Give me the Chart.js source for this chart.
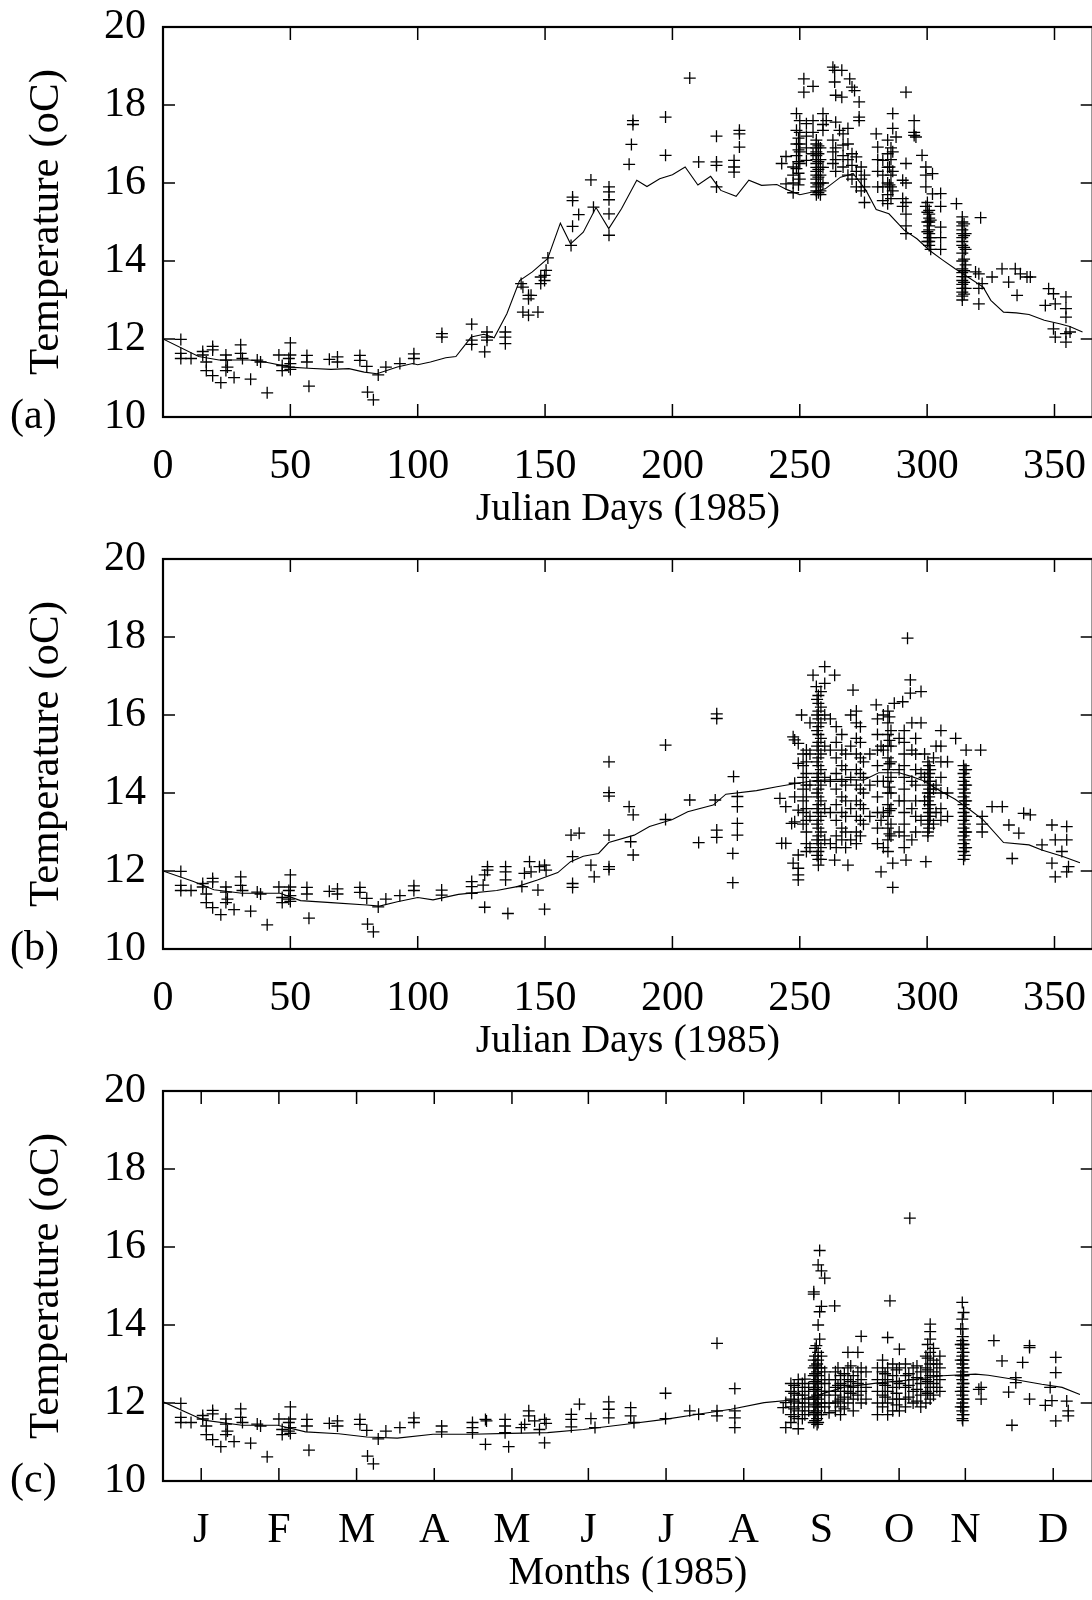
<!DOCTYPE html>
<html>
<head>
<meta charset="utf-8">
<title>Temperature 1985</title>
<script src="https://cdn.jsdelivr.net/npm/chart.js@4.4.1/dist/chart.umd.min.js"></script>
<style>
  html, body { margin: 0; padding: 0; background: #fff; overflow: hidden; }
  body { width: 1092px; height: 1600px; position: relative; }
  .panel { position: absolute; left: 0; width: 1100px; height: 532px; }
</style>
</head>
<body>
<div class="panel" style="top:0"><canvas id="chartA" width="1100" height="532"></canvas></div>
<div class="panel" style="top:532px"><canvas id="chartB" width="1100" height="532"></canvas></div>
<div class="panel" style="top:1064px"><canvas id="chartC" width="1100" height="532"></canvas></div>
<script>
// observations: each row is [julian day, temperature, temperature, ...]
// winter samples are the same in all three panels
const winterObs = [
  [7, 11.99, 11.63, 11.5], [11, 11.5], [15.6, 11.68, 11.59], [17, 11.41, 11.19],
  [19.5, 11.81, 11.72, 11.06], [22.7, 10.88], [24.7, 11.59, 11.46, 11.19], [25.3, 11.28],
  [27.9, 11.01], [30.5, 11.85, 11.63], [31.2, 11.5], [34.4, 10.97], [37, 11.46], [38.3, 11.41],
  [40.9, 10.62], [45.5, 11.59], [46.8, 11.32, 11.19], [49.4, 11.5, 11.28], [50, 11.9, 11.59, 11.37, 11.22],
  [56.5, 11.58, 11.41], [57.3, 10.79], [65.3, 11.48], [68.5, 11.54, 11.41], [77.3, 11.58, 11.45],
  [80, 11.3], [80.3, 10.64], [82.6, 10.44], [84.5, 11.08], [87.5, 11.28], [93, 11.37], [98.5, 11.62, 11.5]
];

const obsA = [
  [109.5, 12.14, 12.05], [121.2, 12.38, 11.97, 11.86], [126.3, 11.67], [127.2, 12.18, 12.05, 11.97],
  [134.4, 12.18, 12.05, 11.88], [140.6, 13.42], [141.3, 13.33, 12.69], [143.5, 13.12, 13.03, 12.61],
  [144.5, 13.12], [147.2, 12.69], [148.3, 13.59, 13.42], [149.8, 13.63, 13.5], [150.4, 13.76], [151.1, 14.08],
  [160.2, 14.4], [160.8, 15.64, 15.55, 14.89], [163.2, 15.19], [168, 16.08], [169, 15.38],
  [175.1, 15.9, 15.77, 15.57, 15.21, 14.66], [183, 16.48], [183.9, 16.99], [184.5, 17.5, 17.6],
  [197.3, 17.69, 16.71], [206.8, 18.69], [210.3, 16.54], [217.3, 17.2, 16.54, 16.45, 15.9],
  [224.2, 16.58, 16.41, 16.28], [226.3, 17.35, 17.26, 16.92],
  [242.9, 16.5], [244.6, 16.68, 15.98], [247.4, 16.41, 16.2, 16.0, 15.75],
  [248.7, 17.78, 17.35, 17.0, 16.7, 16.37], [249.5, 17.15, 16.85, 16.55, 16.25, 15.95],
  [250, 17.6, 17.3, 17.0, 16.8, 16.5, 16.1],
  [251.6, 18.67, 18.33], [252.6, 17.52, 17.2, 16.9, 16.58], [255.2, 18.48, 17.6, 17.3, 16.75],
  [256.5, 17.1, 17.0, 16.9, 16.8, 16.7, 16.6, 16.5, 16.4, 16.3, 16.2, 16.1, 16.0, 15.9, 15.8, 15.7],
  [257.3, 16.95, 16.75, 16.55, 16.35, 16.15, 15.95, 15.75],
  [258.1, 16.9, 16.6, 16.4, 16.2, 16.0, 15.8, 15.7], [259.1, 17.78, 17.5, 17.35, 16.4, 16.0], [260.4, 17.6],
  [263, 18.97, 17.1, 16.8, 16.5], [263.7, 18.89, 18.59], [264.1, 18.25, 17.56, 16.9, 16.6, 16.3],
  [265.6, 17.35], [266.5, 18.89, 18.2], [267, 17.26, 16.97, 16.7, 16.41], [268.9, 17.4, 17.0, 16.6, 16.2],
  [269.6, 18.67], [270.5, 18.46, 16.75, 16.45, 16.1], [271.5, 18.37], [272.2, 16.67, 16.3, 15.9],
  [273.3, 18.08, 17.69, 17.6], [274.1, 16.41, 16.1, 15.8], [275.4, 16.2, 15.9, 15.5],
  [280, 17.26], [280.6, 16.92, 16.6, 16.3, 15.9], [282.6, 16.58, 16.2, 15.9, 15.55],
  [284.5, 17.1, 16.75, 16.4, 16.0, 15.7, 15.47], [285.2, 16.41, 15.95], [285.8, 16.9, 16.6, 16.2, 15.9, 15.6],
  [286.5, 17.78, 17.4, 16.8, 16.3, 15.8],
  [287.8, 17.18], [290.4, 16.07, 15.6, 15.4], [291.7, 18.33, 16.5, 16.0, 15.5, 15.2, 14.9, 14.7],
  [294.9, 17.6, 17.3, 17.22], [295.6, 17.18], [298, 16.71], [299.5, 16.41, 16.2, 15.9, 15.4],
  [300.1, 15.5, 15.25, 15.0, 14.75, 14.5],
  [300.8, 15.3, 15.2, 15.1, 15.0, 14.9, 14.8, 14.7, 14.6, 14.5, 14.4], [301.4, 15.05, 14.6, 14.3],
  [302.1, 16.24, 15.72], [305.3, 15.73, 15.4, 14.87, 14.6, 14.3], [311.5, 15.47],
  [313.8, 15.13, 15.0, 14.9, 14.8, 14.7, 14.6, 14.5, 14.4, 14.2, 14.0, 13.8, 13.7, 13.6, 13.5, 13.4, 13.3, 13.2, 13.1, 13.0],
  [314.5, 14.95, 14.65, 14.35, 14.05, 13.75, 13.45, 13.15],
  [315.1, 14.7, 14.3, 13.9, 13.6, 13.3], [319, 13.72], [320.3, 13.67, 13.3, 12.9], [321, 15.11], [321.6, 13.42],
  [325.5, 13.59], [329.4, 13.8], [332, 13.46], [334.6, 13.8], [335.3, 13.12], [336.6, 13.67],
  [339.2, 13.59], [340.5, 13.59], [346.4, 12.86], [347.7, 13.29], [349.6, 13.16, 12.26], [350.3, 12.9, 12.05],
  [354.5, 13.08, 12.78, 12.56, 12.14, 11.92], [356.1, 12.18]
];

const obsB = [
  [109.4, 11.51, 11.38], [121.2, 11.73, 11.6, 11.43], [125.7, 11.64], [126.3, 11.9, 11.07], [127.4, 12.11, 12.02],
  [134.5, 12.11, 11.98, 11.77], [135.4, 10.91], [140.9, 11.6], [141.9, 11.94], [143.9, 12.24], [144.5, 11.98],
  [147.2, 11.51], [147.8, 12.11], [149.8, 12.15, 11.02], [150.4, 12.02], [160.2, 12.92], [160.8, 12.37, 11.68, 11.58],
  [163.4, 12.97], [168, 12.15], [169.3, 11.85], [175.1, 14.8, 14.01, 13.92, 12.92, 12.11, 12.04],
  [183, 13.65], [183.6, 12.75], [184.6, 13.44, 12.41], [197.3, 15.23, 13.32], [206.8, 13.82], [210.3, 12.73],
  [216.8, 13.82], [217.4, 16.03, 15.91, 13.05, 12.86], [223.7, 12.45, 11.7], [224, 14.42],
  [225.5, 13.91, 13.65, 13.22, 12.92],
  [242.2, 13.86], [242.9, 12.71], [244.5, 13.65, 12.71], [246.8, 13.22], [247.4, 15.44, 12.2],
  [248, 15.36, 14.25, 13.9, 13.26], [249.4, 15.27, 14.76, 13.56, 12.41, 12.07, 11.9, 11.77], [250.7, 16.0],
  [251.3, 15.0, 14.7, 14.4, 14.1, 13.8, 13.5, 13.2],
  [252.6, 15.1, 14.8, 14.5, 14.2, 13.9, 13.6, 13.3, 13.0, 12.7, 12.5], [254, 15.8, 15.0, 14.2, 13.4, 12.6],
  [255.2, 17.02], [256.5, 16.73],
  [256.8, 16.4, 16.0, 15.6, 15.2, 14.8, 14.4, 14.0, 13.6, 13.2, 12.8, 12.4],
  [257.3, 16.5, 16.3, 16.1, 15.9, 15.7, 15.5, 15.3, 15.1, 14.9, 14.7, 14.5, 14.3, 14.1, 13.9, 13.7, 13.5, 13.3, 13.1, 12.9, 12.7, 12.5, 12.3, 12.15],
  [258.3, 16.6, 16.2, 15.8, 15.4, 15.0, 14.6, 14.2, 13.8, 13.4, 13.0, 12.6, 12.3],
  [259.8, 17.24, 16.81, 16.0, 15.2, 14.4, 13.6, 12.8], [262, 15.9, 15.1, 14.3, 13.5, 12.7], [263.7, 17.02, 12.28],
  [264.3, 15.7, 15.3, 14.9, 14.5, 14.1, 13.7, 13.3, 12.9, 12.6],
  [266.5, 15.5, 15.1, 14.7, 14.3, 13.9, 13.5, 13.1, 12.8], [268, 15.0, 14.6, 14.2, 13.8, 13.4, 13.0, 12.6],
  [268.9, 12.15], [270, 16.0, 15.2, 14.4, 13.6, 12.8], [270.9, 16.64],
  [272.2, 16.1, 15.8, 15.4, 15.0, 14.6, 14.2, 13.8, 13.4, 13.0, 12.7],
  [273.8, 15.7, 15.3, 14.9, 14.5, 14.1, 13.7, 13.3, 12.9], [275, 14.8, 14.4, 14.0, 13.6, 13.2],
  [277.5, 15.0, 14.2, 13.4],
  [280, 16.26], [280.5, 15.9, 15.5, 15.1, 14.7, 14.3, 13.9, 13.5, 13.1, 12.7], [281.9, 15.2, 13.3, 11.98],
  [282.8, 16.0, 15.1, 14.3, 13.5, 12.6],
  [284.6, 16.1, 15.8, 15.5, 15.2, 14.9, 14.6, 14.3, 14.0, 13.7, 13.4, 13.1, 12.8, 12.5],
  [285.2, 15.95, 15.35, 14.75, 14.15, 13.55, 12.95],
  [285.8, 15.6, 15.2, 14.8, 14.4, 14.0, 13.6, 13.2, 12.9], [286.5, 12.2, 11.58], [287.1, 16.3],
  [289, 15.4, 14.6, 13.8, 13.0], [290.4, 16.34],
  [291, 15.6, 15.3, 15.0, 14.7, 14.4, 14.1, 13.8, 13.5, 13.2, 12.9, 12.6], [291.7, 12.28], [292.3, 17.97],
  [293.4, 16.9, 16.56], [294, 15.8, 15.1, 14.3, 13.6, 12.8], [295.5, 15.4, 15.0, 14.6, 14.2, 13.8, 13.4, 13.0],
  [297.6, 16.6, 15.8, 14.5, 13.3], [299, 15.0, 14.4, 13.8],
  [299.5, 12.24], [300.3, 14.8, 14.6, 14.4, 14.2, 14.0, 13.8, 13.6, 13.4, 13.2, 13.0, 12.9],
  [300.8, 14.7, 14.5, 14.3, 14.1, 13.9, 13.7, 13.5, 13.3, 13.1],
  [301.2, 14.6, 14.3, 14.0, 13.7, 13.4], [302.5, 14.9, 14.1, 13.2], [303.5, 15.2, 14.2, 13.5],
  [305.4, 15.6, 15.2, 14.8, 14.4, 14.0, 13.6, 13.3], [308, 14.8, 14.0, 13.4],
  [311.2, 15.4], [314.3, 14.7, 14.5, 14.3, 14.1, 13.9, 13.7, 13.5, 13.3, 13.1, 12.9, 12.7, 12.5, 12.3],
  [314.8, 14.6, 14.4, 14.2, 14.0, 13.8, 13.6, 13.4, 13.2, 13.0, 12.8, 12.6, 12.4],
  [315.3, 15.1, 14.6, 14.2, 13.8, 13.4, 13.0, 12.6], [321, 15.1], [321.6, 13.4, 13.2, 13.0],
  [325.5, 13.65], [329.5, 13.65], [332.1, 13.18], [333.4, 12.32], [336, 12.97], [337.9, 13.48], [340.5, 13.44],
  [345.1, 12.67], [349, 13.18, 12.2], [350.3, 12.8, 11.85], [352.9, 12.5], [354.8, 13.14, 12.8, 11.98], [355.5, 12.11]
];

const obsC = [
  [109.4, 11.41, 11.26], [121.5, 11.5, 11.37, 11.24], [126.6, 11.58, 10.94], [127, 11.54],
  [134.3, 11.58, 11.41, 11.24], [135.7, 10.88], [140.7, 11.37], [142, 11.45], [143.6, 11.8, 11.67],
  [145.9, 11.54], [147.8, 11.32], [149.8, 11.58, 10.98], [150.4, 11.48], [160.3, 11.71, 11.58, 11.39],
  [163.5, 11.97], [168, 11.6], [169.6, 11.37], [175, 12.03, 11.84, 11.62], [183.6, 11.88, 11.67], [184.9, 11.5],
  [197.3, 12.25, 11.6], [206.8, 11.8], [210.3, 11.71], [217.5, 13.53, 11.8, 11.67], [224.5, 12.37, 11.8, 11.62, 11.37],
  [243.5, 11.88], [244.5, 12.01, 11.37], [246.5, 12.5, 12.3, 12.1, 11.9, 11.7, 11.5],
  [247.8, 12.45, 12.25, 12.05, 11.85, 11.65],
  [249.4, 12.6, 12.4, 12.2, 12.0, 11.8, 11.6, 11.34], [251, 12.5, 12.2, 11.9, 11.6], [252, 12.61, 12.3, 12.0, 11.7],
  [253.5, 12.4, 12.1, 11.8],
  [255.5, 14.85, 14.79, 13.1, 12.9, 12.7, 12.5, 12.3, 12.1, 11.9, 11.7, 11.5],
  [256, 13.4, 13.2, 12.95, 12.75, 12.55, 12.35, 12.15, 11.95, 11.75, 11.55], [256.5, 13.47],
  [256.8, 13.0, 12.8, 12.6, 12.4, 12.2, 12.0, 11.8, 11.6, 11.45],
  [257.2, 15.54, 14.0, 13.3, 13.1, 12.9, 12.7, 12.5, 12.3, 12.1, 11.9, 11.7, 11.5], [257.8, 15.91, 14.34, 13.64],
  [258.5, 15.39, 14.48, 13.2, 12.9, 12.6, 12.3, 12.0, 11.7], [259.8, 15.2, 12.8, 12.5, 12.2, 11.9],
  [261.5, 12.6, 12.3, 12.0, 11.75],
  [263.7, 14.49], [264, 12.8, 12.6, 12.4, 12.2, 12.0, 11.8], [265, 12.9, 12.45, 12.05],
  [266, 12.7, 12.5, 12.3, 12.1, 11.9, 11.7], [267.5, 12.75, 12.45, 12.15, 11.85],
  [268.9, 13.3, 12.9, 12.6, 12.3, 12.0], [270, 12.95, 12.55, 12.25], [271, 12.7, 12.4, 12.1, 11.8],
  [272.8, 13.3, 12.8, 12.5, 12.2], [274.1, 13.71, 12.9, 12.6, 12.3, 12.0], [276, 12.8, 12.4, 12.1],
  [280.5, 12.9, 12.6, 12.3, 12.0, 11.7], [282.5, 13.1, 12.8, 12.5, 12.2, 11.9], [283.5, 12.75, 12.45, 12.15],
  [284.5, 13.68, 12.9, 12.6, 12.3, 12.0, 11.7], [285.4, 14.62], [286.5, 13.0, 12.7, 12.4, 12.1, 11.8],
  [288, 12.85, 12.55, 12.25, 11.95],
  [289.1, 13.38, 12.9, 12.5, 12.1, 11.8], [291.5, 13.0, 12.7, 12.4, 12.1, 11.9], [292.8, 12.75, 12.45, 12.15],
  [293.2, 16.74],
  [294.5, 12.9, 12.6, 12.3, 12.0], [296, 12.95, 12.65, 12.35, 12.05], [297.5, 12.8, 12.5, 12.2, 11.9],
  [299.5, 13.2, 12.9, 12.6, 12.3, 12.0], [300.2, 13.5, 13.15, 12.85, 12.55, 12.25],
  [301.2, 14.02, 13.83, 13.64, 13.3, 13.0, 12.7, 12.4, 12.1], [302.5, 13.4, 13.1, 12.8, 12.5, 12.2],
  [303.8, 13.0, 12.7, 12.4], [305, 13.2, 12.9, 12.6, 12.3],
  [313.2, 13.9, 13.5, 13.1, 12.7, 12.3, 11.9],
  [313.8, 14.58, 14.15, 13.6, 13.4, 13.2, 13.0, 12.8, 12.6, 12.4, 12.2, 12.0, 11.8, 11.6],
  [314, 13.9, 13.7, 13.5, 13.3, 13.1, 12.9, 12.7, 12.5, 12.3, 12.1, 11.9, 11.7, 11.55],
  [314.3, 14.32, 13.5, 13.3, 13.1, 12.9, 12.7, 12.5, 12.3, 12.1, 11.9, 11.7],
  [320.3, 12.35], [321.2, 12.4, 12.1], [326.2, 13.6], [329.4, 13.08], [332, 12.28], [333.3, 11.43],
  [334.8, 12.65, 12.52], [337.5, 13.04], [340.2, 13.47, 13.42, 12.1], [346.4, 11.94], [348.3, 12.4], [349, 12.06],
  [350.5, 13.17, 12.78, 11.54], [354.8, 12.05], [355.4, 11.8, 11.67]
];

// model curves
const modelDaysA = [0, 14, 22, 34, 40, 50, 57, 66, 73, 79, 84, 92, 98, 100, 105, 111, 115, 121, 126, 130, 135, 140, 145, 151, 156, 160, 165, 170, 175, 180, 186, 190, 195, 200, 205, 210, 215, 219, 225, 230, 235, 241, 245, 250, 255, 260, 266, 271, 276, 280, 285, 291, 296, 301, 306, 311, 316, 322, 325, 330, 335, 340, 346, 352, 356, 361];
const modelTempA = [12.0, 11.55, 11.46, 11.46, 11.41, 11.28, 11.25, 11.22, 11.24, 11.15, 11.11, 11.28, 11.37, 11.34, 11.41, 11.52, 11.55, 12.05, 12.12, 12.03, 12.65, 13.5, 13.72, 14.06, 14.97, 14.44, 14.74, 15.37, 14.83, 15.34, 16.07, 15.91, 16.11, 16.21, 16.41, 15.95, 16.17, 15.81, 15.66, 16.07, 15.94, 15.96, 15.83, 15.7, 15.77, 15.85, 16.15, 16.24, 15.81, 15.32, 15.21, 14.79, 14.57, 14.27, 14.03, 13.8, 13.59, 13.33, 12.99, 12.69, 12.67, 12.63, 12.48, 12.39, 12.32, 12.18];

const modelDaysB = [0, 12, 20, 31, 46, 54, 66, 80, 85, 92, 100, 106, 116, 131, 139, 147, 155, 160, 165, 171, 175, 185, 191, 200, 206, 216, 221, 233, 241, 249, 256, 266, 275, 281, 289, 294, 298, 305, 311, 316, 322, 330, 340, 345, 353, 360];
const modelTempB = [12.0, 11.73, 11.52, 11.43, 11.43, 11.24, 11.19, 11.13, 11.1, 11.21, 11.32, 11.26, 11.4, 11.5, 11.6, 11.77, 11.96, 12.24, 12.38, 12.45, 12.73, 12.92, 13.14, 13.32, 13.52, 13.69, 13.97, 14.06, 14.16, 14.25, 14.32, 14.35, 14.33, 14.52, 14.52, 14.42, 14.33, 14.06, 13.84, 13.61, 13.31, 12.73, 12.67, 12.54, 12.38, 12.21];

const modelDaysC = [0, 16, 31, 45, 56, 69, 80, 92, 106, 121, 136, 151, 165, 181, 197, 210, 223, 236, 249, 254, 267, 280, 293, 306, 319, 324, 332, 345, 353, 360];
const modelTempC = [12.03, 11.56, 11.43, 11.43, 11.26, 11.21, 11.13, 11.1, 11.2, 11.2, 11.22, 11.24, 11.32, 11.45, 11.58, 11.71, 11.84, 12.01, 12.09, 12.14, 12.4, 12.51, 12.59, 12.7, 12.74, 12.71, 12.63, 12.48, 12.4, 12.22];

const monthDays = [15, 45.5, 76, 106.5, 137, 167, 197.5, 228, 258.5, 289, 315, 349.5];
const monthLabels = ['J', 'F', 'M', 'A', 'M', 'J', 'J', 'A', 'S', 'O', 'N', 'D'];

const serif = '"Liberation Serif", "Times New Roman", Times, serif';
Chart.defaults.color = '#000';

const toPoints = rows => rows.flatMap(r => r.slice(1).map(t => ({ x: r[0], y: t })));

// gnuplot style box with inward ticks on all four sides, plus the (a)/(b)/(c) tag
const frameTicks = {
  id: 'frameTicks',
  afterDraw(chart, args, opts) {
    const { ctx, chartArea: a, scales: { x, y } } = chart;
    ctx.save();
    ctx.strokeStyle = '#000';
    ctx.lineWidth = 1.5;
    ctx.beginPath();
    x.ticks.forEach(t => {
      const px = x.getPixelForValue(t.value);
      ctx.moveTo(px, a.bottom); ctx.lineTo(px, a.bottom - 13);
      ctx.moveTo(px, a.top); ctx.lineTo(px, a.top + 13);
    });
    y.ticks.forEach(t => {
      const py = y.getPixelForValue(t.value);
      ctx.moveTo(a.left, py); ctx.lineTo(a.left + 12, py);
      ctx.moveTo(a.right, py); ctx.lineTo(a.right - 12, py);
    });
    ctx.stroke();
    ctx.lineWidth = 2.2;
    ctx.strokeRect(a.left, a.top, a.right - a.left, a.bottom - a.top);
    ctx.fillStyle = '#000';
    ctx.font = '42px ' + serif;
    ctx.textAlign = 'left';
    ctx.textBaseline = 'middle';
    ctx.fillText(opts.tag, 10, a.bottom);
    ctx.restore();
  }
};

function makeChart(id, obs, days, temps, tag, xTitle, months) {
  const xScale = {
    type: 'linear', min: 0, max: 365,
    grid: { display: false, drawTicks: false },
    border: { display: false },
    ticks: { stepSize: 50, includeBounds: false, padding: 25, autoSkip: false, maxRotation: 0,
             font: { family: serif, size: 42, lineHeight: 1.2 } },
    title: { display: true, text: xTitle, padding: 0, font: { family: serif, size: 40, lineHeight: 1.15 } },
    afterFit: s => { s.height = 115; s.paddingLeft = 0; s.paddingRight = 0; }
  };
  if (months) {
    xScale.afterBuildTicks = s => { s.ticks = monthDays.map(v => ({ value: v })); };
    xScale.ticks.callback = (v, i) => monthLabels[i];
  }
  new Chart(document.getElementById(id), {
    type: 'scatter',
    data: {
      datasets: [{
        data: toPoints(winterObs.concat(obs)),
        pointStyle: 'cross', pointRadius: 6, pointBorderWidth: 1.3,
        borderColor: '#000', backgroundColor: '#000'
      }, {
        data: days.map((d, i) => ({ x: d, y: temps[i] })),
        showLine: true, pointRadius: 0, borderWidth: 1.1, borderColor: '#000', tension: 0
      }]
    },
    options: {
      responsive: false,
      animation: false,
      devicePixelRatio: 1,
      layout: { padding: { top: 27, right: 2, bottom: 0, left: 0 } },
      plugins: { legend: { display: false }, tooltip: { enabled: false }, frameTicks: { tag: tag } },
      scales: {
        x: xScale,
        y: {
          min: 10, max: 20,
          grid: { display: false, drawTicks: false },
          border: { display: false },
          ticks: { stepSize: 2, padding: 17, font: { family: serif, size: 42, lineHeight: 1.2 } },
          title: { display: true, text: 'Temperature (oC)', padding: { top: 21, bottom: 0 },
                   font: { family: serif, size: 43, lineHeight: 1.2 } },
          afterFit: s => { s.width = 163; s.paddingTop = 0; s.paddingBottom = 0; }
        }
      }
    },
    plugins: [frameTicks]
  });
}

makeChart('chartA', obsA, modelDaysA, modelTempA, '(a)', 'Julian Days (1985)', false);
makeChart('chartB', obsB, modelDaysB, modelTempB, '(b)', 'Julian Days (1985)', false);
makeChart('chartC', obsC, modelDaysC, modelTempC, '(c)', 'Months (1985)', true);
</script>
</body>
</html>
